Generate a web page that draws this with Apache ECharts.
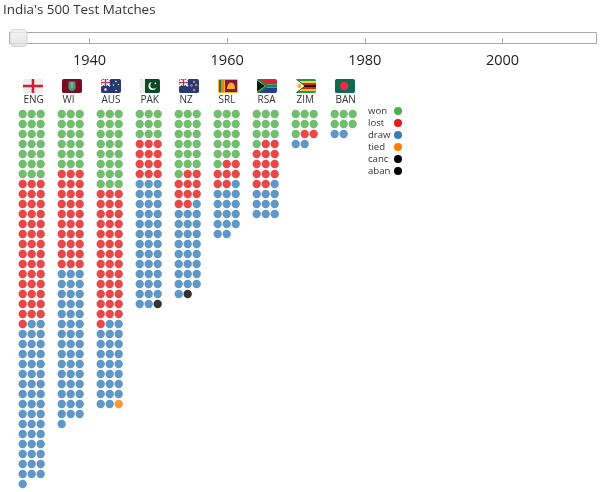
<!DOCTYPE html>
<html>
<head>
<meta charset="utf-8">
<title>India's 500 Test Matches</title>
<style>
  html, body { margin: 0; padding: 0; background: #fff; }
  #chart { width: 606px; height: 492px; }
</style>
<script src="https://cdn.jsdelivr.net/npm/echarts@6/dist/echarts.min.js"></script>
</head>
<body>
<div id="chart"></div>
<script>
var teams = ['ENG', 'WI', 'AUS', 'PAK', 'NZ', 'SRL', 'RSA', 'ZIM', 'BAN'];

// matches per opponent
var won  = [21, 18, 24,  9, 19, 16, 10, 7, 6];
var lost = [43, 30, 40, 12, 10,  7, 13, 2, 0];
var draw = [48, 46, 25, 38, 26, 15, 10, 2, 2];
var tied = [ 0,  0,  1,  0,  0,  0,  0, 0, 0];
var canc = [ 0,  0,  0,  1,  1,  0,  0, 0, 0];
var aban = [ 0,  0,  0,  0,  0,  0,  0, 0, 0];

var results = ['won', 'lost', 'draw', 'tied', 'canc', 'aban'];
var resultCounts = [won, lost, draw, tied, canc, aban];
var resultColors = ['#4daf4a', '#e41a1c', '#377eb8', '#ff7f00', '#000000', '#000000'];

var timelineYears = [1940, 1960, 1980, 2000];
var sliderYear = 1929.7;

// small svg flags, 20x14
var jack = '<rect width="9" height="7" fill="#2a3f7e"/><path d="M0 0L9 7M9 0L0 7" stroke="#fff" stroke-width="1.6"/><path d="M4.5 0V7M0 3.5H9" stroke="#fff" stroke-width="2.4"/><path d="M4.5 0V7M0 3.5H9" stroke="#d8233c" stroke-width="1.2"/>';
var flagSvgs = [
  '<rect width="20" height="14" fill="#eeeeee"/><path d="M10 0V14M0 7H20" stroke="#ce1f36" stroke-width="2.6"/>',
  '<rect width="20" height="14" fill="#7c0a20"/><path d="M6.5 2.5H13.5V8.5Q13.5 11 10 12.2Q6.5 11 6.5 8.5Z" fill="#3f9a8f"/><path d="M10 3V9" stroke="#c9b44a" stroke-width="1.4"/>',
  '<rect width="20" height="14" fill="#27396f"/>' + jack + '<g fill="#fff"><circle cx="4.5" cy="10.5" r="1.2"/><circle cx="15" cy="2.5" r=".8"/><circle cx="12.5" cy="6" r=".7"/><circle cx="17.5" cy="5.5" r=".7"/><circle cx="15" cy="11.5" r=".8"/></g>',
  '<rect width="20" height="14" fill="#0c4a26"/><rect width="5" height="14" fill="#eeeeee"/><circle cx="12.5" cy="7" r="4" fill="#fff"/><circle cx="13.7" cy="6.2" r="3.4" fill="#0c4a26"/><circle cx="15.4" cy="4.4" r=".9" fill="#fff"/>',
  '<rect width="20" height="14" fill="#27396f"/>' + jack + '<g fill="#d8233c" stroke="#fff" stroke-width=".4"><circle cx="15" cy="3" r=".9"/><circle cx="12.5" cy="6.5" r=".9"/><circle cx="17.3" cy="6" r=".9"/><circle cx="15" cy="11" r=".9"/></g>',
  '<rect width="20" height="14" fill="#f5b21a"/><rect x="1" y="1" width="2.5" height="12" fill="#0b7f5a"/><rect x="3.5" y="1" width="2.5" height="12" fill="#ef7d1a"/><rect x="7" y="1" width="12" height="12" fill="#8a1538"/><path d="M9 10Q9.5 3.5 13 3.5Q17 3.5 17 10Z" fill="#f5b21a"/>',
  '<rect width="20" height="14" fill="#ffffff"/><rect width="20" height="5" fill="#e0222e"/><rect y="9" width="20" height="5" fill="#2a3a8f"/><path d="M0 0L10 7L0 14Z" fill="#f7c51e"/><path d="M0 1.5L8 7L0 12.5Z" fill="#111"/><path d="M9 7H20" stroke="#0a8a55" stroke-width="3.4"/><path d="M0 -0.5L10.2 7L0 14.5" fill="none" stroke="#0a8a55" stroke-width="2"/>',
  '<rect width="20" height="14" fill="#1c9a4c"/><rect y="2" width="20" height="2" fill="#f8d21c"/><rect y="4" width="20" height="2" fill="#de2027"/><rect y="6" width="20" height="2" fill="#111"/><rect y="8" width="20" height="2" fill="#de2027"/><rect y="10" width="20" height="2" fill="#f8d21c"/><path d="M0 0L9 7L0 14Z" fill="#fff"/><path d="M0 0L9 7L0 14" fill="none" stroke="#111" stroke-width=".7"/><circle cx="3.4" cy="7" r="2" fill="#e9b22c"/>',
  '<rect width="20" height="14" fill="#0f6b4f"/><circle cx="9.2" cy="7" r="4.2" fill="#ef2b48"/>'
];

function flagImage(svg) {
  var src = '<svg xmlns="http://www.w3.org/2000/svg" width="60" height="42" viewBox="0 0 20 14">' +
    '<defs><clipPath id="c"><rect width="20" height="14" rx="1.8"/></clipPath></defs><g clip-path="url(#c)">' + svg + '</g></svg>';
  return 'image://data:image/svg+xml;charset=utf-8,' + encodeURIComponent(src);
}

// one slot = 3px, a team takes 13 slots, dots sit 3 slots apart
var perRow = 3;
var teamSlots = 13;
var dotSlots = 3;

function buildDots() {
  var out = results.map(function() { return []; });
  teams.forEach(function(team, t) {
    var n = 0;
    resultCounts.forEach(function(counts, r) {
      for (var i = 0; i < counts[t]; i++) {
        var row = Math.floor(n / perRow);
        var col = n % perRow;
        out[r].push([t * teamSlots + col * dotSlots, row, team]);
        n++;
      }
    });
  });
  return out;
}

var dots = buildDots();
var font = '"Open Sans", "Noto Sans", sans-serif';

var series = results.map(function(name, r) {
  return {
    name: name,
    type: 'scatter',
    xAxisIndex: 0,
    yAxisIndex: 0,
    symbol: 'circle',
    symbolSize: 8.4,
    itemStyle: { color: resultColors[r], opacity: 0.8 },
    data: dots[r]
  };
});

// flags and team codes above the columns
series.push({
  name: 'teams',
  type: 'scatter',
  xAxisIndex: 0,
  yAxisIndex: 0,
  silent: true,
  data: teams.map(function(team, t) {
    return {
      name: team,
      value: [t * teamSlots + 3.43, -2.8],
      symbol: flagImage(flagSvgs[t]),
      symbolSize: [20, 14]
    };
  }),
  itemStyle: { opacity: 1 },
  label: {
    show: true,
    formatter: '{b}',
    position: [0.5, 16.5],
    align: 'left',
    verticalAlign: 'top',
    fontFamily: font,
    fontSize: 10,
    color: '#333'
  }
});

// the year slider knob
series.push({
  name: 'slider',
  type: 'scatter',
  xAxisIndex: 1,
  yAxisIndex: 1,
  silent: true,
  clip: false,
  symbol: 'roundRect',
  symbolSize: 17,
  itemStyle: {
    color: new echarts.graphic.LinearGradient(0, 0, 0, 1, [
      { offset: 0, color: '#f2f2f2' },
      { offset: 1, color: '#dcdcdc' }
    ]),
    borderColor: '#c8c8c8',
    borderWidth: 1
  },
  data: [[sliderYear, 0]]
});

var chart = echarts.init(document.getElementById('chart'), null, { renderer: 'canvas' });
chart.setOption({
  animation: false,
  title: {
    text: "India's 500 Test Matches",
    left: 3,
    top: 4,
    padding: 0,
    textStyle: { fontFamily: font, fontSize: 13.4, fontWeight: 500, color: '#333' }
  },
  legend: {
    data: results,
    orient: 'vertical',
    left: 368,
    top: 105,
    align: 'right',
    icon: 'circle',
    itemWidth: 8,
    itemHeight: 8,
    itemGap: 0,
    selectedMode: false,
    padding: 0,
    itemStyle: { opacity: 1 },
    formatter: function(name) { return '{n|' + name + '}'; },
    textStyle: {
      rich: {
        n: { width: 21, height: 12, lineHeight: 12, align: 'left', fontFamily: font, fontSize: 9.6, color: '#333' }
      }
    }
  },
  grid: [
    { left: 22.7, top: 74, width: 390, height: 410, containLabel: false },
    { left: 9.5, top: 32.5, width: 587, height: 11, show: true, backgroundColor: '#fff', borderColor: '#aaa', borderWidth: 1 }
  ],
  xAxis: [
    { type: 'value', gridIndex: 0, min: 0, max: 130, show: false },
    {
      type: 'value',
      gridIndex: 1,
      position: 'bottom',
      min: 1928.38,
      max: 2013.66,
      splitLine: { show: false },
      axisLine: { show: false },
      axisTick: { length: 6, inside: false, lineStyle: { color: '#aaa' }, customValues: timelineYears },
      axisLabel: {
        customValues: timelineYears,
        formatter: function(v) { return String(v); },
        margin: 10,
        fontFamily: font,
        fontSize: 14.5,
        color: '#222'
      }
    }
  ],
  yAxis: [
    { type: 'value', gridIndex: 0, min: -4, max: 37, inverse: true, show: false },
    { type: 'value', gridIndex: 1, min: -1, max: 1, show: false }
  ],
  series: series
});
window.addEventListener('resize', function() { chart.resize(); });
</script>
</body>
</html>
